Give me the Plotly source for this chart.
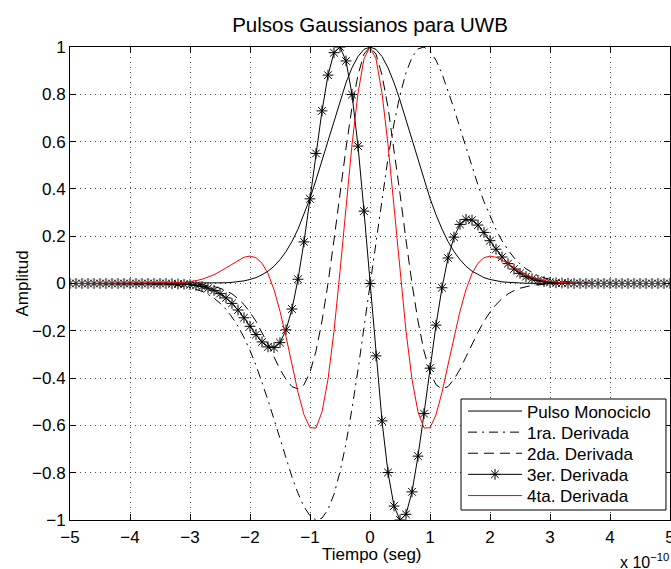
import plotly.graph_objects as go

# Time axis (units of 1e-10 s)
tiempo = [
    -5.0, -4.9, -4.8, -4.7, -4.6, -4.5, -4.4, -4.3, -4.2, -4.1,
    -4.0, -3.9, -3.8, -3.7, -3.6, -3.5, -3.4, -3.3, -3.2, -3.1,
    -3.0, -2.9, -2.8, -2.7, -2.6, -2.5, -2.4, -2.3, -2.2, -2.1,
    -2.0, -1.9, -1.8, -1.7, -1.6, -1.5, -1.4, -1.3, -1.2, -1.1,
    -1.0, -0.9, -0.8, -0.7, -0.6, -0.5, -0.4, -0.3, -0.2, -0.1,
    0.0, 0.1, 0.2, 0.3, 0.4, 0.5, 0.6, 0.7, 0.8, 0.9,
    1.0, 1.1, 1.2, 1.3, 1.4, 1.5, 1.6, 1.7, 1.8, 1.9,
    2.0, 2.1, 2.2, 2.3, 2.4, 2.5, 2.6, 2.7, 2.8, 2.9,
    3.0, 3.1, 3.2, 3.3, 3.4, 3.5, 3.6, 3.7, 3.8, 3.9,
    4.0, 4.1, 4.2, 4.3, 4.4, 4.5, 4.6, 4.7, 4.8, 4.9,
    5.0,
]

pulso_monociclo = [
    0, 0, 0, 0, 0, 0, 0, 0, 0, 0,
    0, 0, 0, 0, 0, 0, 0, 0, 0, 0,
    0, 0, 0, 0.001, 0.001, 0.002, 0.003, 0.005, 0.007, 0.011,
    0.017, 0.025, 0.037, 0.052, 0.073, 0.101, 0.135, 0.178, 0.230, 0.291,
    0.360, 0.438, 0.520, 0.607, 0.693, 0.775, 0.849, 0.912, 0.960, 0.990,
    1.000, 0.990, 0.960, 0.912, 0.849, 0.775, 0.693, 0.607, 0.520, 0.438,
    0.360, 0.291, 0.230, 0.178, 0.135, 0.101, 0.073, 0.052, 0.037, 0.025,
    0.017, 0.011, 0.007, 0.005, 0.003, 0.002, 0.001, 0.001, 0, 0,
    0, 0, 0, 0, 0, 0, 0, 0, 0, 0,
    0, 0, 0, 0, 0, 0, 0, 0, 0, 0,
    0,
]

derivada_1 = [
    0, 0, 0, 0, 0, 0, 0, 0, 0, 0,
    0, 0, -0.001, -0.001, -0.002, -0.002, -0.004, -0.006, -0.008, -0.012,
    -0.017, -0.024, -0.033, -0.046, -0.062, -0.083, -0.109, -0.142, -0.181, -0.228,
    -0.283, -0.346, -0.416, -0.493, -0.574, -0.657, -0.740, -0.818, -0.887, -0.944,
    -0.982, -1.000, -0.992, -0.956, -0.891, -0.797, -0.676, -0.530, -0.365, -0.186,
    0, 0.186, 0.365, 0.530, 0.676, 0.797, 0.891, 0.956, 0.992, 1.000,
    0.982, 0.944, 0.887, 0.818, 0.740, 0.657, 0.574, 0.493, 0.416, 0.346,
    0.283, 0.228, 0.181, 0.142, 0.109, 0.083, 0.062, 0.046, 0.033, 0.024,
    0.017, 0.012, 0.008, 0.006, 0.004, 0.002, 0.002, 0.001, 0.001, 0,
    0, 0, 0, 0, 0, 0, 0, 0, 0, 0,
    0,
]

derivada_2 = [
    0, 0, 0, 0, 0, 0, 0, 0, 0, 0,
    0, 0, 0, 0, 0, 0, 0, 0, 0, -0.001,
    -0.002, -0.003, -0.005, -0.008, -0.013, -0.020, -0.030, -0.044, -0.064, -0.089,
    -0.121, -0.160, -0.206, -0.257, -0.310, -0.363, -0.405, -0.436, -0.446, -0.428,
    -0.375, -0.286, -0.159, 0.000, 0.184, 0.380, 0.572, 0.745, 0.882, 0.970,
    1.000, 0.970, 0.882, 0.745, 0.572, 0.380, 0.184, 0.000, -0.159, -0.286,
    -0.375, -0.428, -0.446, -0.436, -0.405, -0.363, -0.310, -0.257, -0.206, -0.160,
    -0.121, -0.089, -0.064, -0.044, -0.030, -0.020, -0.013, -0.008, -0.005, -0.003,
    -0.002, -0.001, 0, 0, 0, 0, 0, 0, 0, 0,
    0, 0, 0, 0, 0, 0, 0, 0, 0, 0,
    0,
]

derivada_3 = [
    0, 0, 0, 0, 0, 0, 0, 0, 0, 0,
    0, 0, 0, 0, 0, 0, 0, -0.001, -0.002, -0.003,
    -0.005, -0.008, -0.013, -0.020, -0.029, -0.043, -0.061, -0.084, -0.112, -0.145,
    -0.181, -0.216, -0.247, -0.268, -0.271, -0.250, -0.196, -0.108, 0.018, 0.176,
    0.358, 0.550, 0.730, 0.881, 0.976, 1.000, 0.941, 0.799, 0.581, 0.306,
    0, -0.306, -0.581, -0.799, -0.941, -1.000, -0.976, -0.881, -0.730, -0.550,
    -0.358, -0.176, -0.018, 0.108, 0.196, 0.250, 0.271, 0.268, 0.247, 0.216,
    0.181, 0.145, 0.112, 0.084, 0.061, 0.043, 0.029, 0.020, 0.013, 0.008,
    0.005, 0.003, 0.002, 0.001, 0, 0, 0, 0, 0, 0,
    0, 0, 0, 0, 0, 0, 0, 0, 0, 0,
    0,
]

derivada_4 = [
    0, 0, 0, 0, 0, 0, 0, 0, 0, 0,
    0, 0, 0, 0, 0, 0, 0.001, 0.002, 0.003, 0.005,
    0.008, 0.012, 0.018, 0.027, 0.037, 0.051, 0.066, 0.083, 0.099, 0.111,
    0.116, 0.109, 0.086, 0.042, -0.026, -0.117, -0.225, -0.344, -0.460, -0.555,
    -0.610, -0.611, -0.543, -0.405, -0.201, 0.051, 0.325, 0.587, 0.805, 0.950,
    1.000, 0.950, 0.805, 0.587, 0.325, 0.051, -0.201, -0.405, -0.543, -0.611,
    -0.610, -0.555, -0.460, -0.344, -0.225, -0.117, -0.026, 0.042, 0.086, 0.109,
    0.116, 0.111, 0.099, 0.083, 0.066, 0.051, 0.037, 0.027, 0.018, 0.012,
    0.008, 0.005, 0.003, 0.002, 0.001, 0, 0, 0, 0, 0,
    0, 0, 0, 0, 0, 0, 0, 0, 0, 0,
    0,
]

series_names = ["Pulso Monociclo", "1ra. Derivada", "2da. Derivada", "3er. Derivada", "4ta. Derivada"]

x_ticks = [-5, -4, -3, -2, -1, 0, 1, 2, 3, 4, 5]
x_ticktext = ["\u22125", "\u22124", "\u22123", "\u22122", "\u22121", "0", "1", "2", "3", "4", "5"]
y_ticks = [-1, -0.8, -0.6, -0.4, -0.2, 0, 0.2, 0.4, 0.6, 0.8, 1]
y_ticktext = ["\u22121", "\u22120.8", "\u22120.6", "\u22120.4", "\u22120.2", "0", "0.2", "0.4", "0.6", "0.8", "1"]

FONT = "Liberation Sans, Arial, Helvetica, sans-serif"

# Legend layout (paper coordinates): one single-entry legend per row inside a framed box
LEG_X = 0.655
LEG_ROWS = [0.2294, 0.1848, 0.1402, 0.0956, 0.0507]
LEG_BOX = dict(x0=0.6517, x1=0.9933, y0=0.0211, y1=0.2558)
legend_ids = ["legend", "legend2", "legend3", "legend4", "legend5"]

fig = go.Figure()
fig.add_trace(go.Scatter(x=tiempo, y=pulso_monociclo, mode="lines", name=series_names[0],
                         legend=legend_ids[0], line=dict(color="black", width=1)))
fig.add_trace(go.Scatter(x=tiempo, y=derivada_1, mode="lines", name=series_names[1],
                         legend=legend_ids[1],
                         line=dict(color="black", width=1, dash="9px,5px,2px,5px")))
fig.add_trace(go.Scatter(x=tiempo, y=derivada_2, mode="lines", name=series_names[2],
                         legend=legend_ids[2], line=dict(color="black", width=1, dash="10px,6px")))
fig.add_trace(go.Scatter(x=tiempo, y=derivada_3, mode="lines+markers", name=series_names[3],
                         legend=legend_ids[3], line=dict(color="black", width=1),
                         marker=dict(symbol="asterisk-open", size=9, color="black",
                                     line=dict(color="black", width=1))))
fig.add_trace(go.Scatter(x=tiempo, y=derivada_4, mode="lines", name=series_names[4],
                         legend=legend_ids[4], line=dict(color="red", width=1)))

axis_common = dict(
    showline=True, linecolor="black", linewidth=1, mirror="ticks",
    ticks="inside", ticklen=6, tickcolor="black", tickwidth=1,
    showgrid=True, gridcolor="rgb(70,70,70)", gridwidth=1, griddash="1px,4px",
    zeroline=False, tickfont=dict(family=FONT, size=17, color="black"),
    ticklabeloverflow="allow", automargin=False,
)

fig.update_xaxes(range=[-5, 5], tickmode="array", tickvals=x_ticks, ticktext=x_ticktext,
                 ticklabelstandoff=2, **axis_common)
fig.update_yaxes(range=[-1, 1], tickmode="array", tickvals=y_ticks, ticktext=y_ticktext,
                 **axis_common)

legend_layouts = {}
for lid, ly in zip(legend_ids, LEG_ROWS):
    legend_layouts[lid] = dict(x=LEG_X, y=ly, xanchor="left", yanchor="middle",
                               bgcolor="rgba(0,0,0,0)", borderwidth=0,
                               font=dict(family=FONT, size=17, color="black"),
                               itemwidth=54)

fig.update_layout(
    width=671, height=569,
    margin=dict(l=70, r=1, t=47, b=49, autoexpand=False),
    paper_bgcolor="white", plot_bgcolor="white",
    font=dict(family=FONT, size=17, color="black"),
    title=dict(text="Pulsos Gaussianos para UWB", x=0.5, xref="paper", xanchor="center",
               y=1 - 25 / 569, yref="container", yanchor="middle",
               font=dict(family=FONT, size=20.5, color="black")),
    showlegend=True,
    shapes=[dict(type="rect", xref="paper", yref="paper", layer="above",
                 fillcolor="white", line=dict(color="black", width=1), **LEG_BOX)],
    annotations=[
        dict(text="Tiempo (seg)", xref="paper", yref="paper", x=0.503, y=-0.0725,
             xanchor="center", yanchor="middle", showarrow=False,
             font=dict(family=FONT, size=17, color="black")),
        dict(text="Amplitud", xref="paper", yref="paper", x=-0.08, y=0.5, textangle=-90,
             xanchor="center", yanchor="middle", showarrow=False,
             font=dict(family=FONT, size=17, color="black")),
        dict(text="x 10<sup>\u221210</sup>", xref="paper", yref="paper",
             x=1.002, y=-0.113, xanchor="right", yanchor="bottom",
             showarrow=False, font=dict(family=FONT, size=16, color="black")),
    ],
    **legend_layouts,
)

fig.write_html("out.html")
